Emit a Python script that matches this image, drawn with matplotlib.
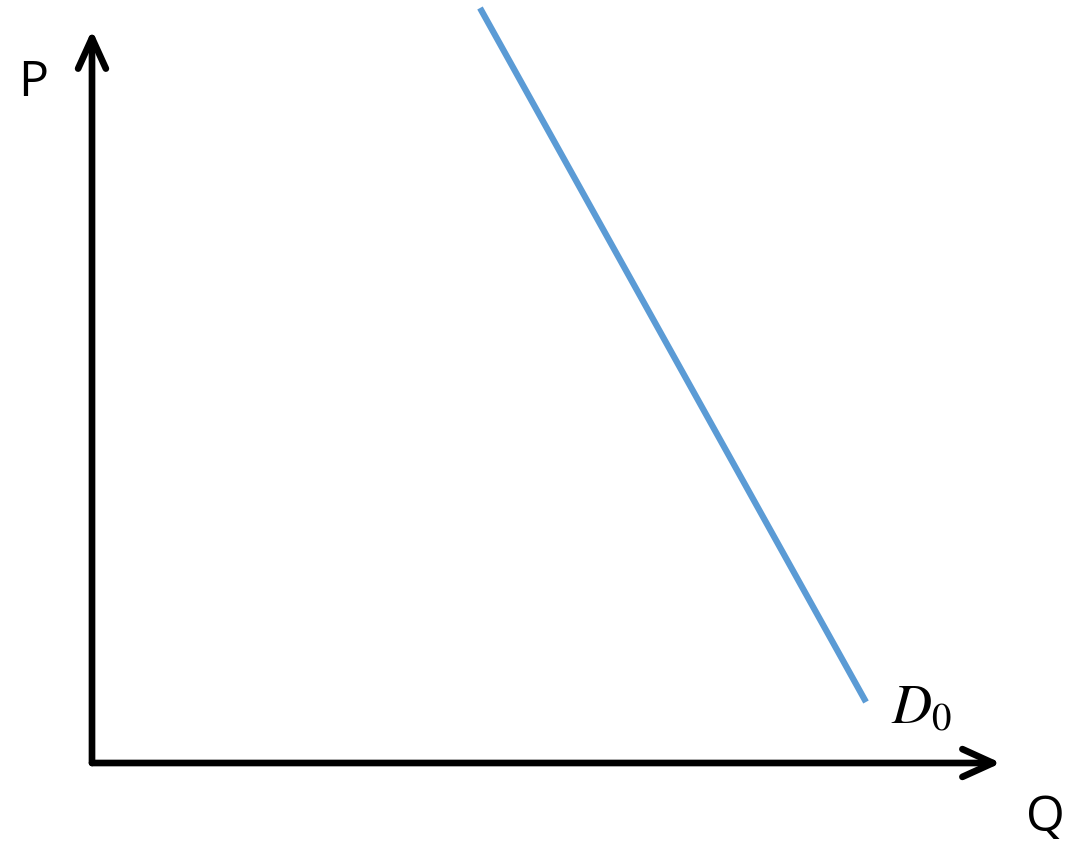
import matplotlib
matplotlib.use("Agg")
import matplotlib.pyplot as plt

# ── Data (diagram units, origin at the axes corner) ─────────────────────────
demand_q = [388, 774]
demand_p = [755, 61]
axis_q_end = 909
axis_p_end = 733

plt.rcParams["mathtext.fontset"] = "stix"

fig = plt.figure(figsize=(10.89, 8.44), dpi=100)
ax = fig.add_axes([92 / 1089, 81 / 844, 997 / 1089, 763 / 844])
ax.set_xlim(0, 997)
ax.set_ylim(0, 763)
ax.axis("off")

arrow = dict(arrowstyle="->,head_length=1.1,head_width=0.5", mutation_scale=20,
             lw=4.8, color="black", shrinkA=0, shrinkB=0,
             capstyle="round", joinstyle="round")
ax.annotate("", xy=(axis_q_end, 0), xytext=(0, 0), arrowprops=arrow,
            annotation_clip=False)
ax.annotate("", xy=(0, axis_p_end), xytext=(0, 0), arrowprops=arrow,
            annotation_clip=False)

ax.plot(demand_q, demand_p, color="#5b9bd5", lw=4.5, solid_capstyle="butt",
        clip_on=False)

ax.text(-59, 680, "P", fontsize=36, family="Open Sans", ha="center", va="center")
ax.text(953, -55, "Q", fontsize=36, family="Open Sans", ha="center", va="center")
ax.text(799, 40, "$D_{\\mathrm{0}}$", fontsize=40, ha="left", va="baseline")

plt.savefig("out.png", dpi=100)
